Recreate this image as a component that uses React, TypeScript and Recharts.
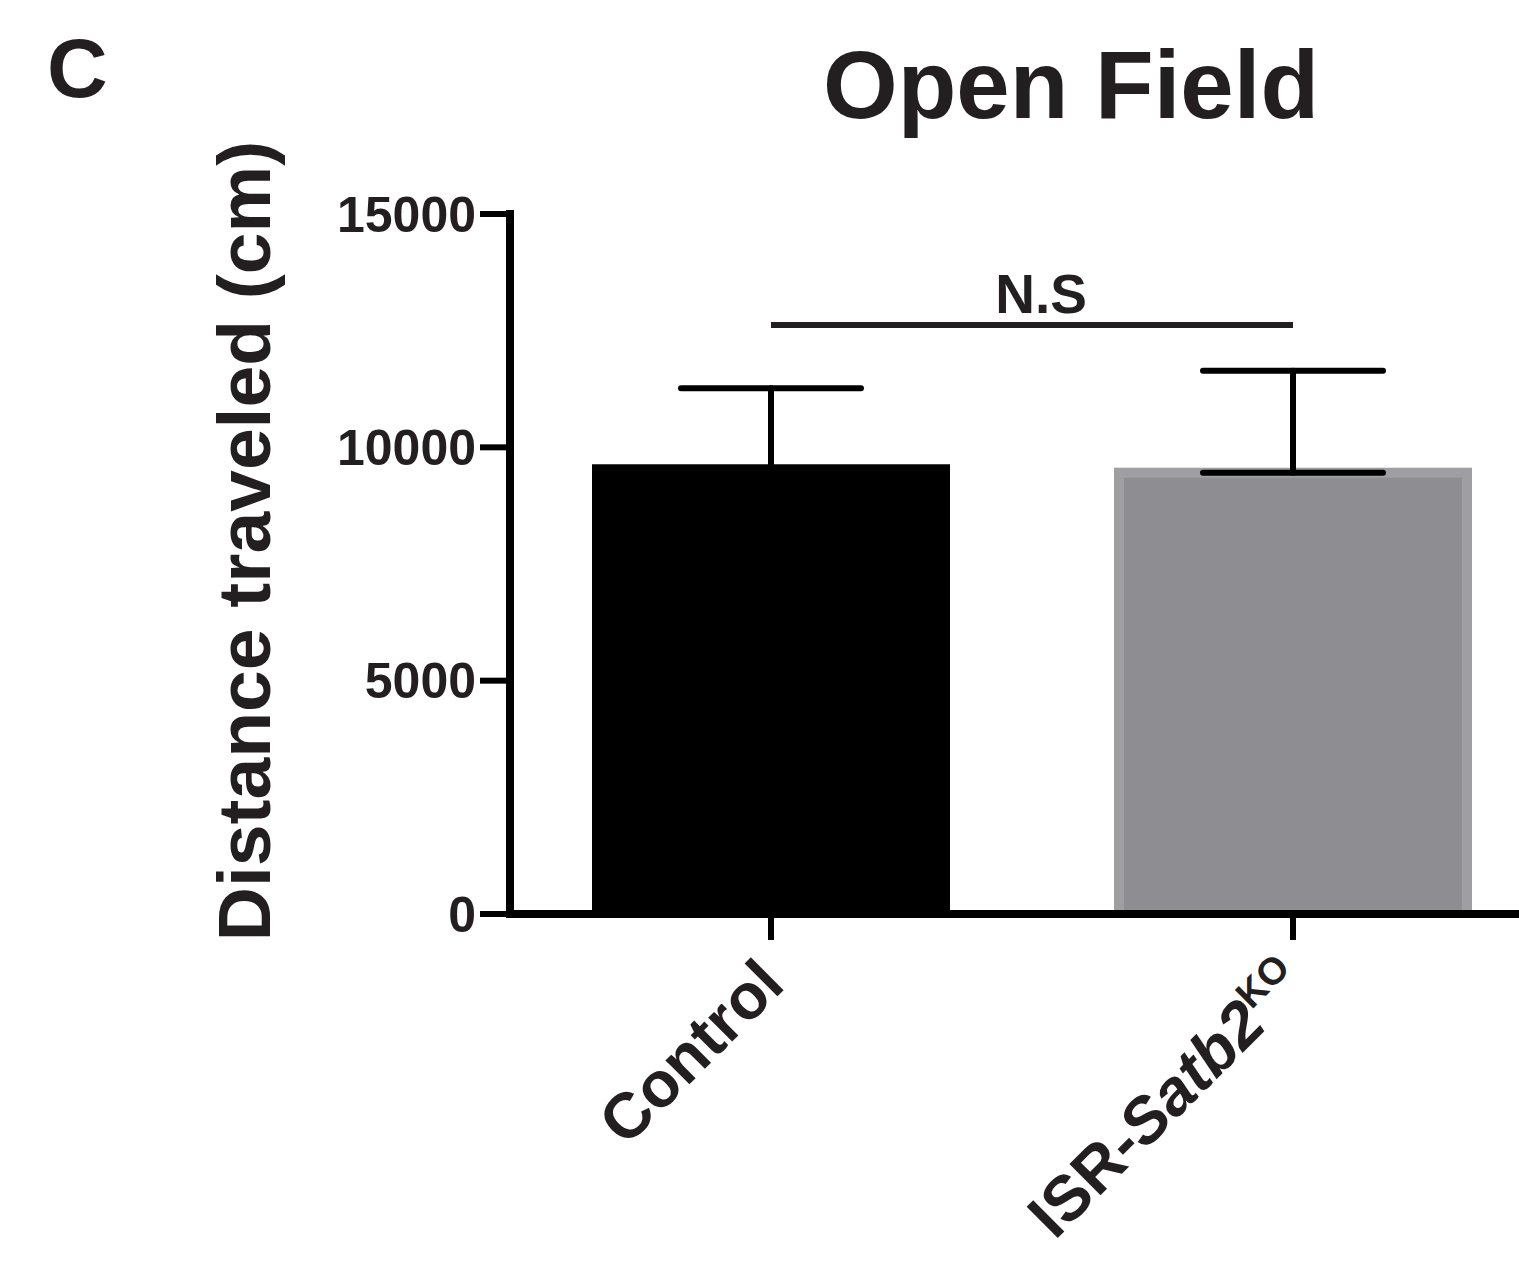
import { ComposedChart, Bar, XAxis, YAxis, ErrorBar, ReferenceLine } from 'recharts'

// groups shown on the x axis
const groups = ['Control', 'ISR-Satb2KO']
// mean distance (cm) and upper error (SEM)
const means = [9530, 9456]
const sems = [1736, 2185]
const yTicks = [0, 5000, 10000, 15000]
// significance bracket between the two groups
const sigLabel = 'N.S'
const sigLevel = 12620

const data = groups.map((g, i) => ({ group: g, mean: means[i], err: [0, sems[i]] }))

const ink = '#231f20'
const font = '"Liberation Sans", Arial, Helvetica, sans-serif'

// fill and edge colour for each bar
const barFills = ['#000000', '#8e8d92']
const barEdges = ['#000000', '#9f9ea2']

const BarShape = (props: any) => {
	const { x, y, width, height, index } = props
	return (
		<g>
			<rect x={x} y={y - 5} width={width} height={height + 5} fill={barEdges[index]} />
			<rect x={x + 10} y={y + 5} width={width - 20} height={height - 5} fill={barFills[index]} />
		</g>
	)
}

const GroupTick = (props: any) => {
	const { x, y, payload } = props
	const v: string = payload.value
	return (
		<g transform={`translate(${x},${y + 29})`}>
			<text
				transform='rotate(-45)'
				textAnchor='end'
				dy='0.35em'
				fontSize={64}
				fontWeight='bold'
				fontFamily={font}
				fill={ink}
			>
				{v === 'Control' ? (
					'Control'
				) : (
					<>
						<tspan>ISR-</tspan>
						<tspan fontStyle='italic'>Satb2</tspan>
						<tspan fontSize={38} dy={-24}>
							KO
						</tspan>
					</>
				)}
			</text>
		</g>
	)
}

export default function App() {
	return (
		<div
			style={{
				position: 'absolute',
				left: 0,
				top: 0,
				width: 1519,
				height: 1277,
				overflow: 'hidden',
				background: '#fff',
				fontFamily: font,
				color: ink,
			}}
		>
			<div style={{ position: 'absolute', left: 47, top: 26, fontSize: 84, fontWeight: 'bold', lineHeight: 1 }}>C</div>
			<div
				style={{
					position: 'absolute',
					left: 1071,
					top: 37,
					transform: 'translateX(-50%)',
					fontSize: 96,
					fontWeight: 'bold',
					lineHeight: 1,
					whiteSpace: 'nowrap',
				}}
			>
				Open Field
			</div>
			<div
				style={{
					position: 'absolute',
					left: 244,
					top: 541,
					transform: 'translate(-50%,-50%) rotate(-90deg)',
					fontSize: 75,
					fontWeight: 'bold',
					lineHeight: 1,
					whiteSpace: 'nowrap',
				}}
			>
				Distance traveled (cm)
			</div>
			<div style={{ position: 'absolute', left: 0, top: 0 }}>
				<ComposedChart width={1600} height={1277} data={data} margin={{ top: 214, right: 46, left: 310, bottom: 63 }}>
					<Bar dataKey='mean' barSize={358} shape={BarShape} isAnimationActive={false}>
						<ErrorBar
							dataKey='err'
							width={90}
							stroke='#000'
							strokeWidth={6}
							strokeLinecap='round'
							isAnimationActive={false}
						/>
					</Bar>
					<ReferenceLine
						segment={[
							{ x: groups[0], y: sigLevel },
							{ x: groups[1], y: sigLevel },
						]}
						stroke={ink}
						strokeWidth={6}
						label={{
							value: sigLabel,
							position: 'top',
							offset: 12,
							dx: 9,
							fontSize: 55,
							fontWeight: 'bold',
							fontFamily: font,
							fill: ink,
						}}
					/>
					<XAxis
						dataKey='group'
						height={300}
						interval={0}
						tickSize={26}
						tickMargin={2}
						tick={<GroupTick />}
						axisLine={{ stroke: '#000', strokeWidth: 8 }}
						tickLine={{ stroke: '#000', strokeWidth: 6 }}
					/>
					<YAxis
						width={200}
						domain={[0, 15000]}
						ticks={yTicks}
						interval={0}
						tickSize={30}
						tickMargin={4}
						axisLine={{ stroke: '#000', strokeWidth: 8, strokeLinecap: 'square' }}
						tickLine={{ stroke: '#000', strokeWidth: 6 }}
						tick={{ fontSize: 50, fontWeight: 'bold', fontFamily: font, fill: ink }}
					/>
				</ComposedChart>
			</div>
		</div>
	)
}
